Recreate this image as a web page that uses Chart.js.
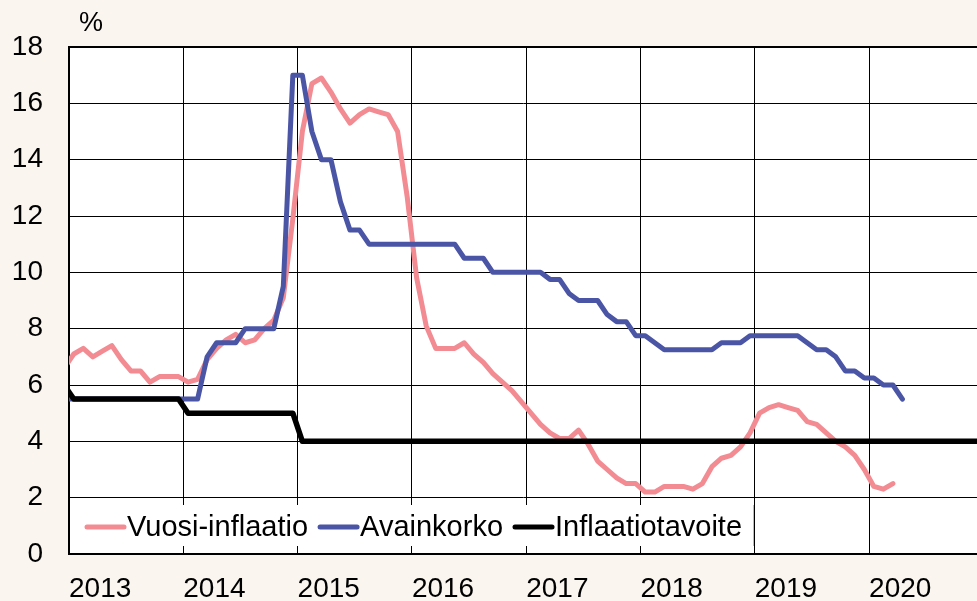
<!DOCTYPE html>
<html>
<head>
<meta charset="utf-8">
<script src="https://cdn.jsdelivr.net/npm/chart.js@4.4.0/dist/chart.umd.min.js"></script>
<style>
  html, body { margin: 0; padding: 0; background: #faf5ef; }
  #wrap { width: 977px; height: 601px; }
</style>
</head>
<body>
<div id="wrap"><canvas id="myChart" width="977" height="601"></canvas></div>
<script>
// monthly data, first value = Dec 2012
var years = ['2013', '2014', '2015', '2016', '2017', '2018', '2019', '2020'];
var seriesNames = ['Vuosi-inflaatio', 'Avainkorko', 'Inflaatiotavoite'];
var seriesColors = ['#f28b92', '#4b55a6', '#000000'];

var inflation = [6.6,
  7.1, 7.3, 7.0, 7.2, 7.4, 6.9, 6.5, 6.5, 6.1, 6.3, 6.3, 6.3,
  6.1, 6.2, 6.9, 7.3, 7.6, 7.8, 7.5, 7.6, 8.0, 8.3, 9.1, 11.9,
  15.0, 16.7, 16.9, 16.4, 15.8, 15.3, 15.6, 15.8, 15.7, 15.6, 15.0, 12.7,
  9.8, 8.1, 7.3, 7.3, 7.3, 7.5, 7.1, 6.8, 6.4, 6.1, 5.8, 5.4,
  5.0, 4.6, 4.3, 4.1, 4.1, 4.4, 3.9, 3.3, 3.0, 2.7, 2.5, 2.5,
  2.2, 2.2, 2.4, 2.4, 2.4, 2.3, 2.5, 3.1, 3.4, 3.5, 3.8, 4.3,
  5.0, 5.2, 5.3, 5.2, 5.1, 4.7, 4.6, 4.3, 4.0, 3.8, 3.5, 3.0,
  2.4, 2.3, 2.5];

var keyRate = [5.5,
  5.5, 5.5, 5.5, 5.5, 5.5, 5.5, 5.5, 5.5, 5.5, 5.5, 5.5, 5.5,
  5.5, 5.5, 7.0, 7.5, 7.5, 7.5, 8.0, 8.0, 8.0, 8.0, 9.5, 17.0,
  17.0, 15.0, 14.0, 14.0, 12.5, 11.5, 11.5, 11.0, 11.0, 11.0, 11.0, 11.0,
  11.0, 11.0, 11.0, 11.0, 11.0, 10.5, 10.5, 10.5, 10.0, 10.0, 10.0, 10.0,
  10.0, 10.0, 9.75, 9.75, 9.25, 9.0, 9.0, 9.0, 8.5, 8.25, 8.25, 7.75,
  7.75, 7.5, 7.25, 7.25, 7.25, 7.25, 7.25, 7.25, 7.5, 7.5, 7.5, 7.75,
  7.75, 7.75, 7.75, 7.75, 7.75, 7.5, 7.25, 7.25, 7.0, 6.5, 6.5, 6.25,
  6.25, 6.0, 6.0, 5.5];

var target = [6.0,
  5.5, 5.5, 5.5, 5.5, 5.5, 5.5, 5.5, 5.5, 5.5, 5.5, 5.5, 5.5,
  5.0, 5.0, 5.0, 5.0, 5.0, 5.0, 5.0, 5.0, 5.0, 5.0, 5.0, 5.0,
  4.0, 4.0, 4.0, 4.0, 4.0, 4.0, 4.0, 4.0, 4.0, 4.0, 4.0, 4.0,
  4.0, 4.0, 4.0, 4.0, 4.0, 4.0, 4.0, 4.0, 4.0, 4.0, 4.0, 4.0,
  4.0, 4.0, 4.0, 4.0, 4.0, 4.0, 4.0, 4.0, 4.0, 4.0, 4.0, 4.0,
  4.0, 4.0, 4.0, 4.0, 4.0, 4.0, 4.0, 4.0, 4.0, 4.0, 4.0, 4.0,
  4.0, 4.0, 4.0, 4.0, 4.0, 4.0, 4.0, 4.0, 4.0, 4.0, 4.0, 4.0,
  4.0, 4.0, 4.0, 4.0, 4.0, 4.0, 4.0, 4.0, 4.0, 4.0, 4.0, 4.0];

var FONT = "'Liberation Sans', Arial, sans-serif";

// month i of the list sits in the middle of its month (Dec 2012 = -0.5)
function toPoints(values) {
  return values.map(function (v, i) { return { x: i - 0.5, y: v }; });
}

var bgPlugin = {
  id: 'bg',
  beforeDraw: function (chart) {
    var c = chart.ctx, a = chart.chartArea;
    c.save();
    c.fillStyle = '#faf5ef';
    c.fillRect(0, 0, chart.width, chart.height);
    c.fillStyle = '#ffffff';
    c.fillRect(a.left, a.top, a.right - a.left, a.bottom - a.top);
    c.restore();
  },
  afterDraw: function (chart) {
    var c = chart.ctx, a = chart.chartArea;
    c.save();
    // unit label
    c.fillStyle = '#000';
    c.font = '27px ' + FONT;
    c.textAlign = 'center';
    c.textBaseline = 'middle';
    c.fillText('%', 91, 24);

    // legend box inside plot
    var top = 505, bottom = 546;
    c.fillStyle = '#ffffff';
    c.fillRect(a.left + 1, top, 753 - a.left - 1, bottom - top);
    c.strokeStyle = '#bbbbbb';
    c.lineWidth = 1;
    c.beginPath();
    c.moveTo(753.5, top);
    c.lineTo(753.5, bottom);
    c.stroke();

    c.font = '29px ' + FONT;
    c.textAlign = 'left';
    var x = 87, y = 527;
    chart.data.datasets.forEach(function (ds) {
      c.strokeStyle = ds.borderColor;
      c.lineWidth = 5;
      c.lineCap = 'round';
      c.beginPath();
      c.moveTo(x, y);
      c.lineTo(x + 37, y);
      c.stroke();
      c.fillStyle = '#000';
      c.fillText(ds.label, x + 40, y + 1);
      x += 40 + c.measureText(ds.label).width + 12;
    });
    c.restore();
  }
};

var ctx = document.getElementById('myChart').getContext('2d');
var chart = new Chart(ctx, {
  type: 'line',
  data: {
    datasets: [
      { label: seriesNames[0], data: toPoints(inflation), borderColor: seriesColors[0], borderWidth: 5, order: 3 },
      { label: seriesNames[1], data: toPoints(keyRate), borderColor: seriesColors[1], borderWidth: 5, order: 2 },
      { label: seriesNames[2], data: toPoints(target), borderColor: seriesColors[2], borderWidth: 5.5, order: 1 }
    ]
  },
  options: {
    responsive: false,
    devicePixelRatio: 1,
    animation: false,
    layout: { padding: { top: 47, right: 0, left: 0, bottom: 0 } },
    elements: {
      point: { radius: 0 },
      line: { tension: 0, borderJoinStyle: 'round', borderCapStyle: 'round', fill: false }
    },
    plugins: {
      legend: { display: false },
      tooltip: { enabled: false }
    },
    scales: {
      x: {
        type: 'linear',
        min: 0,
        max: 95.33,
        afterBuildTicks: function (scale) {
          scale.ticks = years.map(function (y, i) { return { value: i * 12 }; });
        },
        afterFit: function (scale) { scale.height = 47; },
        grid: { color: '#000', lineWidth: 1, drawTicks: false },
        border: { color: '#000', width: 2 },
        ticks: {
          align: 'start',
          padding: 18,
          color: '#000',
          font: { family: FONT, size: 28 },
          maxRotation: 0,
          autoSkip: false,
          callback: function (v, i) { return years[i]; }
        }
      },
      y: {
        min: 0,
        max: 18,
        afterFit: function (scale) { scale.width = 69; },
        grid: {
          color: '#000',
          drawTicks: false,
          lineWidth: function (c) { return c.tick && c.tick.value === 18 ? 2 : 1; }
        },
        border: { color: '#000', width: 2 },
        ticks: {
          stepSize: 2,
          padding: 26,
          color: '#000',
          font: { family: FONT, size: 28 }
        }
      }
    }
  },
  plugins: [bgPlugin]
});
</script>
</body>
</html>
